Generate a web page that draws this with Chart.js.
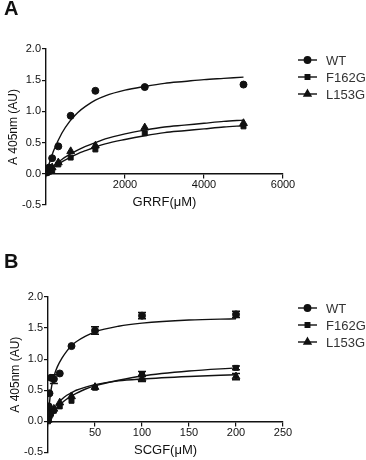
<!DOCTYPE html>
<html>
<head>
<meta charset="utf-8">
<script src="https://cdn.jsdelivr.net/npm/chart.js@4.4.1/dist/chart.umd.min.js"></script>
<style>
  body { margin: 0; background: #fff; font-family: "Liberation Sans", Arial, sans-serif; }
  .wrap { position: relative; width: 366px; height: 460px; }
  .panel { position: absolute; left: 0; width: 366px; height: 230px; }
  .tag { position: absolute; left: 4px; font-size: 20px; font-weight: bold; color: #111; }
</style>
</head>
<body>
<div class="wrap">
  <div class="panel" style="top:0"><canvas id="chartA" width="366" height="230"></canvas></div>
  <div class="panel" style="top:230px"><canvas id="chartB" width="366" height="230"></canvas></div>
  <div class="tag" style="top:-3px">A</div>
  <div class="tag" style="top:250px">B</div>
</div>
<script>
// ---- panel A: GRRF ----
const seriesNames = ["WT", "F162G", "L153G"];
const markerStyles = ["circle", "rect", "triangle"];

const concA = [0, 39, 78, 156, 312, 625, 1250, 2500, 5000];
const wtA = [0.02, 0.06, 0.10, 0.25, 0.44, 0.93, 1.33, 1.39, 1.43];
const f162gA = [0.01, 0.02, 0.04, 0.05, 0.15, 0.26, 0.39, 0.65, 0.76];
const l153gA = [0.02, 0.03, 0.06, 0.10, 0.18, 0.36, 0.45, 0.74, 0.81];

// fitted curves
const fitXA = [0, 100, 200, 400, 600, 800, 1000, 1250, 1500, 2000, 2500, 3000, 3500, 4000, 4500, 5000];
const wtFitA = [0, 0.20, 0.38, 0.65, 0.84, 0.98, 1.08, 1.18, 1.25, 1.34, 1.40, 1.45, 1.48, 1.51, 1.53, 1.55];
const f162gFitA = [0, 0.05, 0.10, 0.19, 0.26, 0.32, 0.37, 0.43, 0.48, 0.55, 0.61, 0.66, 0.69, 0.72, 0.75, 0.77];
const l153gFitA = [0, 0.07, 0.13, 0.23, 0.31, 0.38, 0.44, 0.50, 0.56, 0.64, 0.70, 0.75, 0.78, 0.81, 0.84, 0.86];

// ---- panel B: SCGF ----
const concB = [0, 0.78, 1.56, 3.125, 6.25, 12.5, 25, 50, 100, 200];
const wtB = [0.03, 0.24, 0.45, 0.70, 0.68, 0.77, 1.21, 1.46, 1.70, 1.72];
const wtErrB = [0, 0, 0, 0, 0.07, 0, 0, 0.06, 0.05, 0.05];
const f162gB = [0.0, 0.05, 0.08, 0.12, 0.17, 0.24, 0.33, 0.54, 0.76, 0.86];
const f162gErrB = [0, 0, 0, 0, 0, 0, 0, 0, 0.04, 0.03];
const l153gB = [0.02, 0.10, 0.13, 0.16, 0.20, 0.30, 0.40, 0.55, 0.69, 0.72];
const l153gErrB = [0, 0, 0, 0, 0, 0, 0, 0, 0.05, 0.05];

const fitXB = [0, 1, 2, 3, 5, 7.5, 10, 15, 20, 25, 30, 40, 50, 75, 100, 150, 200];
const wtFitB = [0, 0.20, 0.36, 0.48, 0.65, 0.78, 0.88, 1.02, 1.13, 1.22, 1.28, 1.37, 1.44, 1.53, 1.58, 1.63, 1.65];
const f162gFitB = [0, 0.03, 0.06, 0.08, 0.13, 0.18, 0.23, 0.30, 0.36, 0.41, 0.45, 0.52, 0.57, 0.66, 0.73, 0.81, 0.86];
const l153gFitB = [0, 0.04, 0.08, 0.11, 0.17, 0.23, 0.28, 0.36, 0.42, 0.46, 0.50, 0.55, 0.59, 0.65, 0.68, 0.72, 0.75];

const yTicks = [-0.5, 0, 0.5, 1.0, 1.5, 2.0];
const xTicksA = [0, 2000, 4000, 6000];
const xTicksB = [0, 50, 100, 150, 200, 250];

const INK = "#111";
const FONT = "'Liberation Sans', Arial, sans-serif";

const toPoints = (xs, ys) => xs.map((x, i) => ({ x: x, y: ys[i] }));

const pointSet = (name, xs, ys, style, errs) => ({
    label: name,
    data: toPoints(xs, ys),
    errors: errs || null,
    showLine: false,
    pointStyle: style,
    pointRadius: style === "triangle" ? 4.5 : 3.5,
    backgroundColor: INK,
    borderColor: INK,
    borderWidth: 1
});

const fitSet = (xs, ys) => ({
    label: "",
    fit: true,
    data: toPoints(xs, ys),
    showLine: true,
    pointRadius: 0,
    borderColor: INK,
    borderWidth: 1.4,
    tension: 0.4,
    cubicInterpolationMode: "monotone"
});

// error bars drawn through the scales
const errorBars = {
    id: "errorBars",
    afterDatasetsDraw(chart) {
        const ctx = chart.ctx;
        const xs = chart.scales.x, ys = chart.scales.y;
        ctx.save();
        ctx.strokeStyle = INK;
        ctx.lineWidth = 1.5;
        chart.data.datasets.forEach(ds => {
            if (!ds.errors) return;
            ds.data.forEach((p, i) => {
                const e = ds.errors[i];
                if (!e) return;
                const px = xs.getPixelForValue(p.x);
                const top = ys.getPixelForValue(p.y + e);
                const bot = ys.getPixelForValue(p.y - e);
                ctx.beginPath();
                ctx.moveTo(px, top); ctx.lineTo(px, bot);
                ctx.moveTo(px - 4, top); ctx.lineTo(px + 4, top);
                ctx.moveTo(px - 4, bot); ctx.lineTo(px + 4, bot);
                ctx.stroke();
            });
        });
        ctx.restore();
    }
};

// legend on the right: short line with the marker, then the name
const sideLegend = {
    id: "sideLegend",
    afterDraw(chart, args, opts) {
        const ctx = chart.ctx;
        ctx.save();
        ctx.font = "13px " + FONT;
        ctx.textBaseline = "middle";
        seriesNames.forEach((name, i) => {
            const y = opts.top + i * 17;
            ctx.strokeStyle = INK;
            ctx.lineWidth = 1.4;
            ctx.beginPath();
            ctx.moveTo(298, y); ctx.lineTo(317, y);
            ctx.stroke();
            ctx.fillStyle = INK;
            Chart.helpers.drawPoint(ctx, {
                pointStyle: markerStyles[i],
                radius: markerStyles[i] === "triangle" ? 4 : 3.2,
                borderWidth: 1
            }, 307.5, y);
            ctx.fillStyle = "#333";
            ctx.fillText(name, 326, y + 1);
        });
        ctx.restore();
    }
};

const makeChart = (id, datasets, xMax, xStep, xTitle, pad, legendTop) => {
    const ctx = document.getElementById(id).getContext("2d");
    return new Chart(ctx, {
        type: "scatter",
        data: { datasets: datasets },
        plugins: [errorBars, sideLegend],
        options: {
            responsive: false,
            animation: false,
            layout: { padding: pad },
            plugins: {
                legend: { display: false },
                tooltip: { enabled: false },
                sideLegend: { top: legendTop }
            },
            scales: {
                x: {
                    type: "linear",
                    position: { y: 0 },
                    min: 0,
                    max: xMax,
                    ticks: {
                        stepSize: xStep,
                        color: INK,
                        font: { size: 11, family: FONT },
                        padding: 1,
                        callback: (v) => v === 0 ? "" : v
                    },
                    grid: { drawOnChartArea: false, drawTicks: true, tickLength: 4, color: INK, lineWidth: 1.2 },
                    border: { color: INK, width: 1.4 },
                    title: { display: true, text: xTitle, color: INK, font: { size: 13, family: FONT }, padding: { top: 2, bottom: 0 } }
                },
                y: {
                    min: -0.5,
                    max: 2.0,
                    ticks: {
                        stepSize: 0.5,
                        color: INK,
                        font: { size: 11, family: FONT },
                        padding: 1,
                        callback: (v) => v.toFixed(1)
                    },
                    afterBuildTicks: (scale) => { scale.ticks = yTicks.map(v => ({ value: v })); },
                    grid: { drawOnChartArea: false, drawTicks: true, tickLength: 4, color: INK, lineWidth: 1.2 },
                    border: { color: INK, width: 1.4 },
                    title: { display: true, text: "A 405nm (AU)", color: INK, font: { size: 12, family: FONT }, padding: { top: 0, bottom: 4 } },
                    afterFit: (scale) => { scale.width = 40; }
                }
            }
        }
    });
};

makeChart("chartA", [
    fitSet(fitXA, wtFitA),
    fitSet(fitXA, f162gFitA),
    fitSet(fitXA, l153gFitA),
    pointSet("WT", concA, wtA, "circle"),
    pointSet("F162G", concA, f162gA, "rect"),
    pointSet("L153G", concA, l153gA, "triangle")
], 6000, 2000, "GRRF(μM)", { left: 6, right: 83, top: 49, bottom: 25 }, 60);

makeChart("chartB", [
    fitSet(fitXB, wtFitB),
    fitSet(fitXB, f162gFitB),
    fitSet(fitXB, l153gFitB),
    pointSet("WT", concB, wtB, "circle", wtErrB),
    pointSet("F162G", concB, f162gB, "rect", f162gErrB),
    pointSet("L153G", concB, l153gB, "triangle", l153gErrB)
], 250, 50, "SCGF(μM)", { left: 8, right: 83, top: 67, bottom: 7 }, 78);
</script>
</body>
</html>
